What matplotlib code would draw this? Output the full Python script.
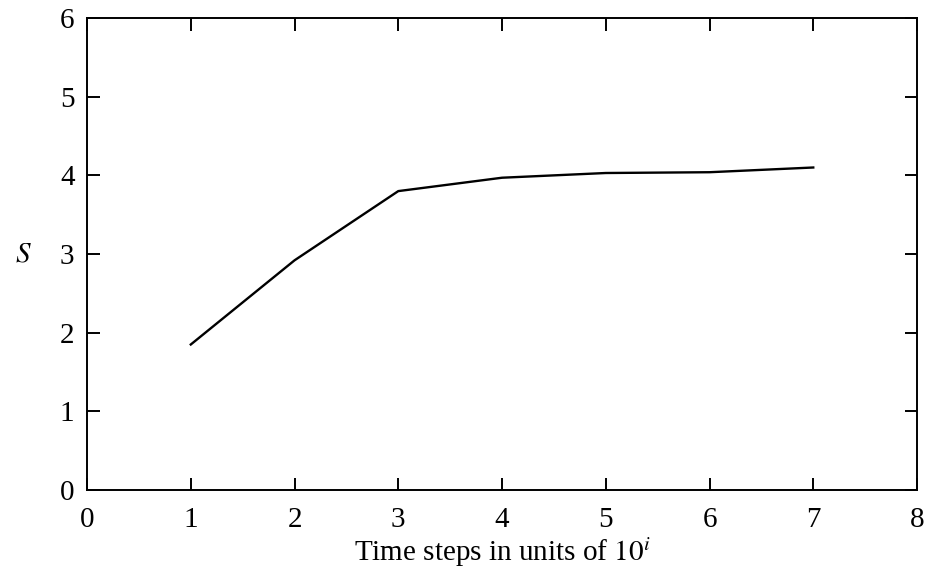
import numpy as np
import matplotlib
matplotlib.use('Agg')
import matplotlib.pyplot as plt

# Data
steps = [1, 2, 3, 4, 5, 6, 7]
entropy = [1.85, 2.92, 3.80, 3.97, 4.03, 4.04, 4.10]

plt.rcParams['font.family'] = 'Liberation Serif'
plt.rcParams['mathtext.fontset'] = 'stix'

fig = plt.figure(figsize=(9.29, 5.69), dpi=100)
ax = fig.add_axes([0.0937, 0.1388, 0.8934, 0.8295])

ax.plot(steps, entropy, color='black', linewidth=1.7)

ax.set_xlim(0, 8)
ax.set_ylim(0, 6)
ax.set_xticks(range(0, 9))
ax.set_yticks(range(0, 7))
ax.tick_params(direction='in', top=True, right=True, length=9, width=1.4,
               labelsize=21)
ax.tick_params(axis='x', pad=12)
ax.tick_params(axis='y', pad=9)
for s in ax.spines.values():
    s.set_linewidth(1.4)

ax.set_xlabel(r'Time steps in units of $10^{i}$', fontsize=21, labelpad=2)
ax.set_ylabel(r'$S$', fontsize=21, rotation=0, labelpad=26, va='center')

fig.savefig('out.png', dpi=100)
